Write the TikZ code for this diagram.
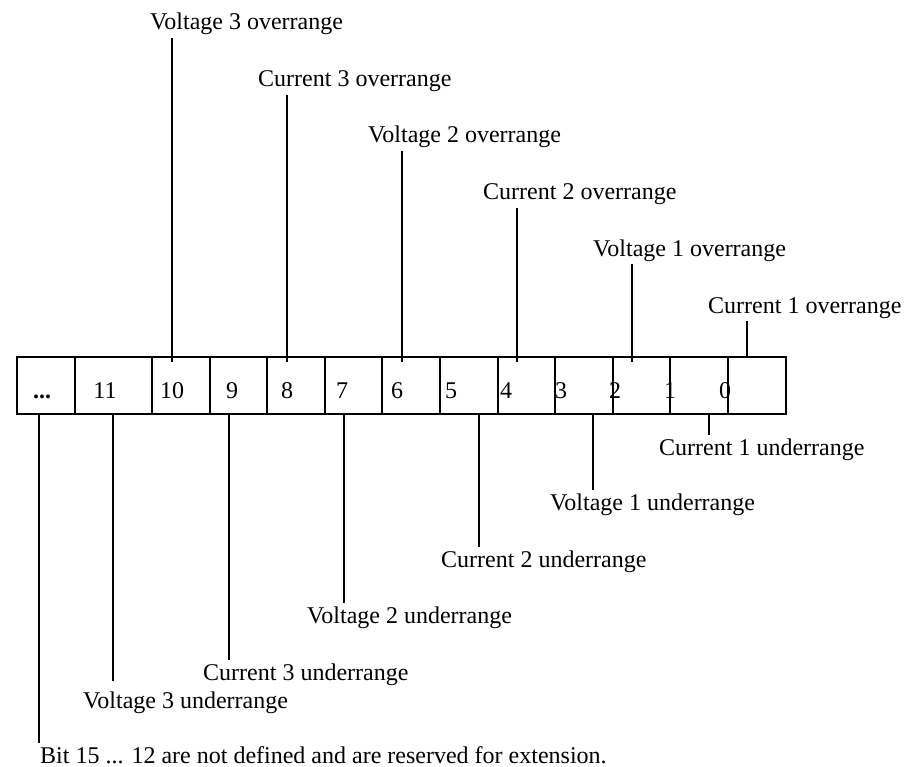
\documentclass[tikz,border=0pt]{standalone}
\usepackage{fontspec}
\setmainfont{Liberation Serif}

\tikzset{
  lbl/.style={anchor=base west, inner xsep=0pt, inner ysep=3pt, font=\fontsize{24}{28}\selectfont},
  bitno/.style={anchor=base, inner sep=0pt, font=\fontsize{24}{28}\selectfont},
  wire/.style={line width=2pt},
}

\begin{document}
\begin{tikzpicture}[x=1pt,y=-1pt]
  \useasboundingbox (0,0) rectangle (904,767);

  % Define the register
  \draw[wire] (17,357) rectangle (786,414);
  \foreach \xx in {75,152,210,267,325,382,440,498,555,613,670,728}
    \draw[wire] (\xx,357) -- (\xx,414);

  \node[bitno] (nx)  at (42,398)  {\textbf{...}};
  \node[bitno] (n11) at (105,398) {11};
  \node[bitno] (n10) at (172,398) {10};
  \node[bitno] (n9)  at (232,398) {9};
  \node[bitno] (n8)  at (287,398) {8};
  \node[bitno] (n7)  at (342,398) {7};
  \node[bitno] (n6)  at (397,398) {6};
  \node[bitno] (n5)  at (451,398) {5};
  \node[bitno] (n4)  at (506,398) {4};
  \node[bitno] (n3)  at (561,398) {3};
  \node[bitno] (n2)  at (615,398) {2};
  \node[bitno] (n1)  at (670,398) {1};
  \node[bitno] (n0)  at (725,398) {0};

  % Tick points on the register
  \coordinate (t10) at (172,362);
  \coordinate (t8)  at (287,362);
  \coordinate (t6)  at (402,362);
  \coordinate (t4)  at (517,362);
  \coordinate (t2)  at (632,362);
  \coordinate (t0)  at (747,357);
  \coordinate (bx)  at (39,414);
  \coordinate (b11) at (113,414);
  \coordinate (b9)  at (229,414);
  \coordinate (b7)  at (344,414);
  \coordinate (b5)  at (479,414);
  \coordinate (b3)  at (593,414);
  \coordinate (b1)  at (709,414);

  % Define nodes
  \node[lbl] (v3o) at (150,30)  {Voltage 3 overrange};
  \node[lbl] (c3o) at (258,87)  {Current 3 overrange};
  \node[lbl] (v2o) at (368,143) {Voltage 2 overrange};
  \node[lbl] (c2o) at (483,200) {Current 2 overrange};
  \node[lbl] (v1o) at (593,256) {Voltage 1 overrange};
  \node[lbl] (c1o) at (708,313) {Current 1 overrange};

  \node[lbl] (c1u) at (659,455) {Current 1 underrange};
  \node[lbl] (v1u) at (550,510) {Voltage 1 underrange};
  \node[lbl] (c2u) at (441,567) {Current 2 underrange};
  \node[lbl] (v2u) at (307,623) {Voltage 2 underrange};
  \node[lbl] (c3u) at (203,680) {Current 3 underrange};
  \node[lbl] (v3u) at (83,708)  {Voltage 3 underrange};
  \node[lbl] (note) at (40,763) {Bit 15 ... 12 are not defined and are reserved for extension.};

  % Connect the nodes
  \draw[wire] (v3o.south -| t10) -- (t10);
  \draw[wire] (c3o.south -| t8) -- (t8);
  \draw[wire] (v2o.south -| t6) -- (t6);
  \draw[wire] (c2o.south -| t4) -- (t4);
  \draw[wire] (v1o.south -| t2) -- (t2);
  \draw[wire] (c1o.south -| t0) -- (t0);

  \draw[wire] (b1) -- (b1 |- c1u.north);
  \draw[wire] (b3) -- (b3 |- v1u.north);
  \draw[wire] (b5) -- (b5 |- c2u.north);
  \draw[wire] (b7) -- (b7 |- v2u.north);
  \draw[wire] (b9) -- (b9 |- c3u.north);
  \draw[wire] (b11) -- ([yshift=7pt]b11 |- v3u.north);
  \draw[wire] (bx) -- (bx |- note.north);

\end{tikzpicture}
\end{document}
